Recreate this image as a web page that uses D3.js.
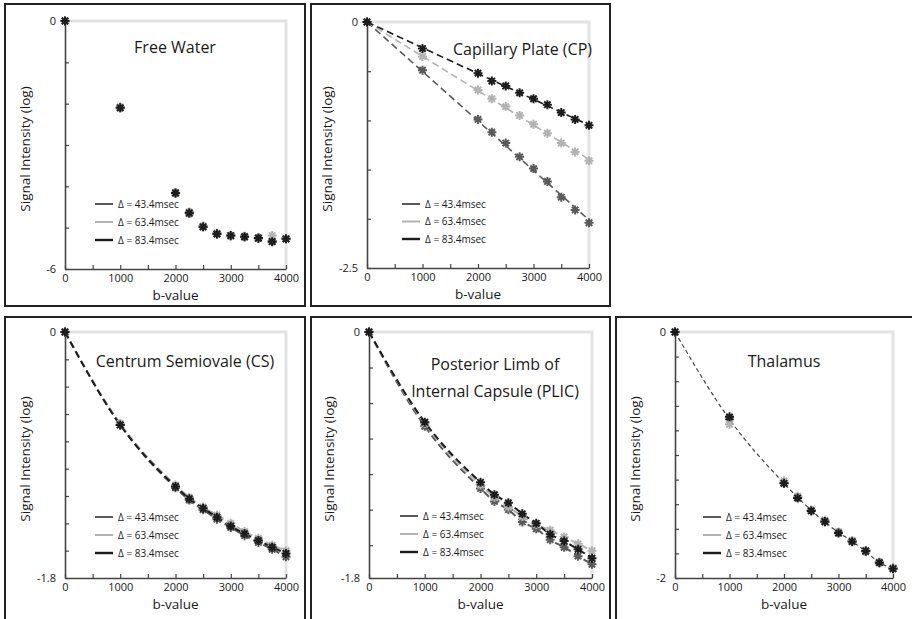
<!DOCTYPE html>
<html>
<head>
<meta charset="utf-8">
<title>Signal intensity vs b-value</title>
<script src="https://cdn.jsdelivr.net/npm/d3@7"></script>
<style>
  body { margin: 0; background: #fff; }
  text { font-family: "Open Sans", sans-serif; fill: #1a1a1a; }
</style>
</head>
<body>
<svg id="chart" width="912" height="619"></svg>
<script>
// b-values shared by all panels
var bValues = [0, 1000, 2000, 2250, 2500, 2750, 3000, 3250, 3500, 3750, 4000];
var xTicks = [0, 500, 1000, 1500, 2000, 2500, 3000, 3500, 4000];
var xLabels = [0, 1000, 2000, 3000, 4000];
var deltaNames = ["\u0394 = 43.4msec", "\u0394 = 63.4msec", "\u0394 = 83.4msec"];

// Free Water
var fw434 = [0, -2.10, -4.17, -4.66, -4.98, -5.16, -5.20, -5.22, -5.26, -5.33, -5.27];
var fw634 = [0, -2.08, -4.15, -4.62, -4.96, -5.13, -5.19, -5.21, -5.24, -5.19, -5.26];
var fw834 = [0, -2.10, -4.16, -4.64, -4.98, -5.15, -5.19, -5.22, -5.25, -5.34, -5.27];

// Capillary Plate
var cp434 = [0, -0.49, -0.99, -1.12, -1.23, -1.37, -1.49, -1.62, -1.78, -1.91, -2.04];
var cp634 = [0, -0.35, -0.69, -0.78, -0.86, -0.95, -1.04, -1.13, -1.23, -1.32, -1.41];
var cp834 = [0, -0.27, -0.52, -0.60, -0.65, -0.72, -0.78, -0.84, -0.92, -0.99, -1.05];

// Centrum Semiovale
var cs434 = [0, -0.68, -1.14, -1.23, -1.30, -1.37, -1.43, -1.49, -1.54, -1.59, -1.645];
var cs634 = [0, -0.67, -1.12, -1.21, -1.28, -1.34, -1.40, -1.46, -1.51, -1.56, -1.60];
var cs834 = [0, -0.68, -1.13, -1.22, -1.29, -1.355, -1.42, -1.475, -1.525, -1.575, -1.62];

// Posterior Limb of Internal Capsule
var plic434 = [0, -0.69, -1.145, -1.24, -1.30, -1.39, -1.44, -1.52, -1.575, -1.64, -1.70];
var plic634 = [0, -0.67, -1.12, -1.21, -1.28, -1.35, -1.41, -1.45, -1.50, -1.55, -1.60];
var plic834 = [0, -0.66, -1.10, -1.19, -1.25, -1.33, -1.40, -1.48, -1.53, -1.59, -1.655];

// Thalamus
var th434 = [0, -0.71, -1.23, -1.345, -1.45, -1.545, -1.63, -1.70, -1.785, -1.875, -1.92];
var th634 = [0, -0.75, -1.21, -1.335, -1.45, -1.53, -1.625, -1.695, -1.775, -1.87, -1.915];
var th834 = [0, -0.69, -1.23, -1.35, -1.455, -1.54, -1.635, -1.705, -1.78, -1.875, -1.925];

// y axis ticks and end labels
var fwYTicks = [0, -1, -2, -3, -4, -5, -6];
var cpYTicks = [0, -0.5, -1, -1.5, -2, -2.5];
var csYTicks = [0, -0.2, -0.4, -0.6, -0.8, -1, -1.2, -1.4, -1.6, -1.8];
var plicYTicks = [0, -0.26, -0.52, -0.78, -1.04, -1.3, -1.56, -1.8];
var thYTicks = [0, -0.2, -0.4, -0.6, -0.8, -1, -1.2, -1.4, -1.6, -1.8, -2];

var colors = ["#5a5a5a", "#b3b3b3", "#1c1c1c"];

var svg = d3.select("#chart");

var panels = [
  { title: ["Free Water"], series: [fw434, fw634, fw834], yMin: -6, yTicks: fwYTicks, yLabels: ["0", "-6"], fit: "none",
    box: [5, 4, 300, 302], plot: [65, 286, 21, 269], titlePos: [175, 53, "middle"], legend: [95, 204, 18] },
  { title: ["Capillary Plate (CP)"], series: [cp434, cp634, cp834], yMin: -2.5, yTicks: cpYTicks, yLabels: ["0", "-2.5"], fit: "linear",
    box: [311, 4, 299, 302], plot: [367, 589, 22, 268], titlePos: [592, 55, "end"], legend: [402, 204, 17.5] },
  { title: ["Centrum Semiovale (CS)"], series: [cs434, cs634, cs834], yMin: -1.8, yTicks: csYTicks, yLabels: ["0", "-1.8"], fit: "curve",
    box: [5, 317, 300, 306], plot: [65, 286, 332, 578], titlePos: [185, 367, "middle"], legend: [95, 517, 18] },
  { title: ["Posterior Limb of", "Internal Capsule (PLIC)"], series: [plic434, plic634, plic834], yMin: -1.8, yTicks: plicYTicks, yLabels: ["0", "-1.8"], fit: "curve",
    box: [311, 317, 299, 306], plot: [369, 592, 332, 578], titlePos: [495, 370, "middle"], legend: [400, 516, 18] },
  { title: ["Thalamus"], series: [th434, th634, th834], yMin: -2, yTicks: thYTicks, yLabels: ["0", "-2"], fit: "single",
    box: [616, 317, 300, 306], plot: [675, 893, 332, 578], titlePos: [784, 367, "middle"], legend: [703, 517, 18] }
];

var star = {
  draw: function(ctx, size) {
    var r = Math.sqrt(size) / 2;
    for (var k = 0; k < 4; k++) {
      var a = k * Math.PI / 4;
      ctx.moveTo(-r * Math.cos(a), -r * Math.sin(a));
      ctx.lineTo(r * Math.cos(a), r * Math.sin(a));
    }
  }
};
var marker = d3.symbol(star, 81);

panels.forEach(function(p) {
  var g = svg.append("g");

  g.append("rect")
    .attr("x", p.box[0]).attr("y", p.box[1])
    .attr("width", p.box[2]).attr("height", p.box[3])
    .attr("fill", "none").attr("stroke", "#222").attr("stroke-width", 2);

  var x = d3.scaleLinear().domain([0, 4000]).range([p.plot[0], p.plot[1]]);
  var y = d3.scaleLinear().domain([0, p.yMin]).range([p.plot[2], p.plot[3]]);

  // light grey frame on top and right
  g.append("path")
    .attr("d", d3.line()([[x(0), y(0)], [x(4000), y(0)], [x(4000), y(p.yMin)]]))
    .attr("fill", "none").attr("stroke", "#e3e3e3").attr("stroke-width", 3);

  var xAxis = g.append("g")
    .attr("transform", "translate(0," + y(p.yMin) + ")")
    .call(d3.axisBottom(x).tickValues(xTicks).tickSize(-4).tickSizeOuter(0).tickPadding(5)
      .tickFormat(function(d) { return xLabels.indexOf(d) >= 0 ? d : ""; }));
  xAxis.selectAll("text").style("font-size", "11px").attr("fill", "#1a1a1a");

  var yAxis = g.append("g")
    .attr("transform", "translate(" + x(0) + ",0)")
    .call(d3.axisLeft(y).tickValues(p.yTicks).tickSize(-4).tickSizeOuter(0).tickPadding(9)
      .tickFormat(function(d) {
        if (d === 0) return p.yLabels[0];
        if (d === p.yMin) return p.yLabels[1];
        return "";
      }));
  yAxis.selectAll("text").style("font-size", "11px").attr("fill", "#1a1a1a");

  [xAxis, yAxis].forEach(function(a) {
    a.select(".domain").attr("stroke", "#444").attr("stroke-width", 1.6);
    a.selectAll(".tick line").attr("stroke", "#444").attr("stroke-width", 1.2);
  });

  // axis titles
  g.append("text")
    .text("b-value")
    .attr("text-anchor", "middle")
    .style("font-size", "13.5px")
    .attr("x", (p.plot[0] + p.plot[1]) / 2)
    .attr("y", p.plot[3] + 31);

  g.append("text")
    .text("Signal Intensity (log)")
    .attr("text-anchor", "middle")
    .style("font-size", "13.5px")
    .attr("transform", "translate(" + (p.plot[0] - 35) + "," + ((p.plot[2] + p.plot[3]) / 2 + 4) + ") rotate(-90)");

  // panel title
  p.title.forEach(function(t, i) {
    g.append("text")
      .text(t)
      .attr("text-anchor", p.titlePos[2])
      .style("font-size", "16px")
      .attr("x", p.titlePos[0])
      .attr("y", p.titlePos[1] + i * 27);
  });

  // fitted lines
  var line = d3.line()
    .x(function(d) { return x(d[0]); })
    .y(function(d) { return y(d[1]); });

  if (p.fit === "linear") {
    p.series.forEach(function(s, i) {
      // least squares slope through origin
      var num = d3.sum(s, function(v, j) { return v * bValues[j]; });
      var den = d3.sum(bValues, function(b) { return b * b; });
      var k = num / den;
      g.append("path")
        .attr("d", line([[0, 0], [4000, k * 4000]]))
        .attr("fill", "none").attr("stroke", colors[i])
        .attr("stroke-width", 1.6).attr("stroke-dasharray", "7,4");
    });
  } else if (p.fit === "curve") {
    line.curve(d3.curveMonotoneX);
    p.series.forEach(function(s, i) {
      g.append("path")
        .attr("d", line(bValues.map(function(b, j) { return [b, s[j]]; })))
        .attr("fill", "none").attr("stroke", colors[i])
        .attr("stroke-width", 2).attr("stroke-dasharray", "7,4");
    });
  } else if (p.fit === "single") {
    line.curve(d3.curveMonotoneX);
    var s0 = p.series[0];
    g.append("path")
      .attr("d", line(bValues.map(function(b, j) { return [b, s0[j]]; })))
      .attr("fill", "none").attr("stroke", "#444")
      .attr("stroke-width", 1.2).attr("stroke-dasharray", "4,3");
  }

  // markers
  p.series.forEach(function(s, i) {
    g.selectAll(".m" + i)
      .data(bValues.map(function(b, j) { return [b, s[j]]; }))
      .enter()
      .append("path")
      .attr("class", "m" + i)
      .attr("d", marker)
      .attr("transform", function(d) { return "translate(" + x(d[0]) + "," + y(d[1]) + ")"; })
      .attr("fill", "none").attr("stroke", colors[i]).attr("stroke-width", 2);
  });

  // legend
  deltaNames.forEach(function(name, i) {
    var ly = p.legend[1] + i * p.legend[2];
    g.append("line")
      .attr("x1", p.legend[0]).attr("x2", p.legend[0] + 18)
      .attr("y1", ly).attr("y2", ly)
      .attr("stroke", colors[i]).attr("stroke-width", i === 2 ? 2.4 : 2);
    g.append("text")
      .text(name)
      .style("font-size", "10px")
      .attr("x", p.legend[0] + 23)
      .attr("y", ly)
      .attr("dy", "0.35em");
  });
});
</script>
</body>
</html>
